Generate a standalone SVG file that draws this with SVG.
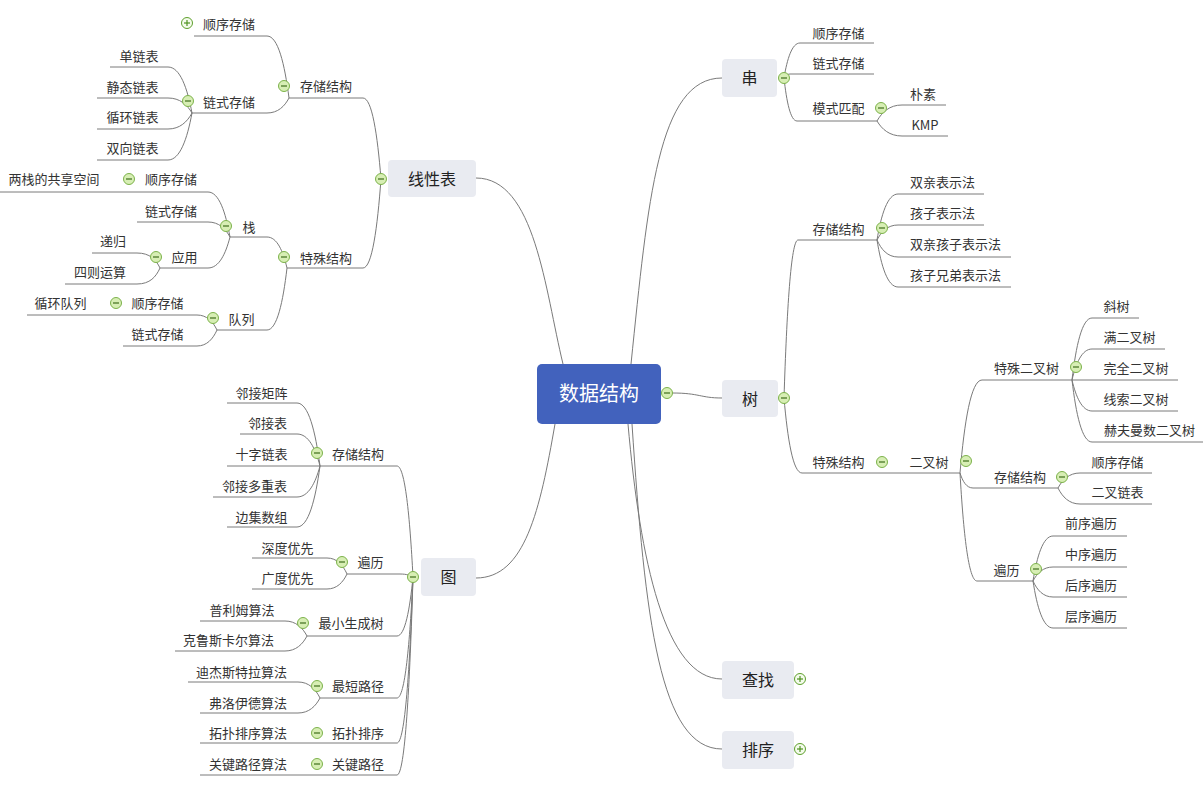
<svg xmlns="http://www.w3.org/2000/svg" xmlns:xlink="http://www.w3.org/1999/xlink" width="1204" height="790" viewBox="0 0 1204 790">
<style>
.t{font-family:"Noto Sans CJK SC","Liberation Sans",sans-serif;font-size:13px;fill:#333;text-anchor:middle}
.m{font-family:"Noto Sans CJK SC","Liberation Sans",sans-serif;font-size:16px;fill:#222;text-anchor:middle}
.c{font-family:"Noto Sans CJK SC","Liberation Sans",sans-serif;font-size:20px;fill:#fff;text-anchor:middle}
.u,.ln{stroke:#7a7a7a;stroke-width:1;fill:none}
.box{fill:#e9ebf1}
</style>
<defs>
<g id="mi"><circle r="5.5" fill="#d7eeb4" stroke="#7cb24a" stroke-width="1"/><line x1="-3" y1="0" x2="3" y2="0" stroke="#3e6e1c" stroke-width="1.2"/></g>
<g id="pl"><circle r="5.5" fill="#f4fbec" stroke="#5ea02c" stroke-width="1"/><line x1="-3" y1="0" x2="3" y2="0" stroke="#4f9322" stroke-width="1.2"/><line x1="0" y1="-3" x2="0" y2="3" stroke="#4f9322" stroke-width="1.2"/></g>
</defs>
<rect width="1204" height="790" fill="#fff"/>
<g id="connectors" class="ln">
<path d="M563,364 C545,290 535,178 476,178"/>
<path d="M631,364 C648,200 658,78 722,78"/>
<path d="M555,424 C540,510 525,578 476,578"/>
<path d="M628,424 C640,560 665,679 722,679"/>
<path d="M632,424 C645,620 660,749 722,749"/>
<path d="M672,393 C700,393 700,398 722,398"/>
<path d="M381,179 C377.4,134.5 372,98 363,98"/>
<path d="M381,179 C377.4,228 372,268 363,268"/>
<path d="M289,98 C284.6,63.9 278,36 267,36"/>
<path d="M289,98 C284.6,106.3 278,113 267,113"/>
<path d="M192,113 C187.2,87.7 180,67 168,67"/>
<path d="M192,113 C187.2,104.8 180,98 168,98"/>
<path d="M192,113 C187.2,121.8 180,129 168,129"/>
<path d="M192,113 C187.2,138.9 180,160 168,160"/>
<path d="M287,268 C283,251 277,237 267,237"/>
<path d="M287,268 C283,302 277,330 267,330"/>
<path d="M230,237 C225.6,212.3 219,192 208,192"/>
<path d="M230,237 C225.6,228.8 219,222 208,222"/>
<path d="M230,237 C225.6,254 219,268 208,268"/>
<path d="M160,268 C156,259.8 150,253 137,253"/>
<path d="M160,268 C156,276.8 150,284 137,284"/>
<path d="M217,330 C213,321.8 207,315 197,315"/>
<path d="M217,330 C213,338.8 207,346 197,346"/>
<path d="M413,577 C409.8,516 405,466 397,466"/>
<path d="M413,577 C410.4,575.4 406.5,574 400,574"/>
<path d="M413,577 C409.8,609.5 405,636 397,636"/>
<path d="M413,577 C409.8,643.6 405,698 397,698"/>
<path d="M413,577 C409.8,668.3 405,743 397,743"/>
<path d="M413,577 C409.8,685.9 405,775 397,775"/>
<path d="M320,466 C315.4,431.4 308.5,403 297,403"/>
<path d="M320,466 C315.4,448.4 308.5,434 297,434"/>
<path d="M320,466 L297,466"/>
<path d="M320,466 C315.4,483 308.5,497 297,497"/>
<path d="M320,466 C315.4,499.6 308.5,527 297,527"/>
<path d="M347,574 C343,565.2 337,558 327,558"/>
<path d="M347,574 C343,582.3 337,589 327,589"/>
<path d="M307,636 C302.6,627.8 296,621 285,621"/>
<path d="M307,636 C302.6,644.3 296,651 285,651"/>
<path d="M320,698 C315.6,689.2 309,682 298,682"/>
<path d="M320,698 C315.6,706.3 309,713 298,713"/>
<path d="M784,78 C787.2,58.8 792,43 800,43"/>
<path d="M784,78 C785.2,75.8 787,74 790,74"/>
<path d="M784,78 C786.6,101.7 790.5,121 797,121"/>
<path d="M877,121 C882,112.2 889.5,105 902,105"/>
<path d="M877,121 C882,129.3 889.5,136 902,136"/>
<path d="M784,398 C786.8,311.1 791,240 798,240"/>
<path d="M784,398 C787.6,439.3 793,473 802,473"/>
<path d="M877,240 C881.2,214.7 887.5,194 898,194"/>
<path d="M877,240 C881.2,231.8 887.5,225 898,225"/>
<path d="M877,240 C881.2,249.4 887.5,257 898,257"/>
<path d="M877,240 C881.2,265.9 887.5,287 898,287"/>
<path d="M960,473 C964.4,421.9 971,380 982,380"/>
<path d="M960,473 C962.6,481.3 966.5,488 973,488"/>
<path d="M960,473 C963.4,532.4 968.5,581 977,581"/>
<path d="M1072,380 C1076,345.9 1082,318 1092,318"/>
<path d="M1072,380 C1076,363 1082,349 1092,349"/>
<path d="M1072,380 L1092,380"/>
<path d="M1072,380 C1076,397 1082,411 1092,411"/>
<path d="M1072,380 C1076,414.1 1082,442 1092,442"/>
<path d="M1058,488 C1062.4,479.8 1069,473 1080,473"/>
<path d="M1058,488 C1062.4,496.8 1069,504 1080,504"/>
<path d="M1033,581 C1037,556.3 1043,536 1053,536"/>
<path d="M1033,581 C1037,573.3 1043,567 1053,567"/>
<path d="M1033,581 C1037,589.8 1043,597 1053,597"/>
<path d="M1033,581 C1037,606.9 1043,628 1053,628"/>
</g>
<g id="n-root"><rect x="537" y="364" width="124" height="60" rx="5" fill="#4262bd"/><text class="c" x="599" y="401">数据结构</text><use href="#mi" x="667" y="393"/></g>
<g id="n-xianxingbiao"><rect class="box" x="388" y="160" width="88" height="37" rx="4"/><text class="m" x="432" y="185">线性表</text><use href="#mi" x="381" y="179"/></g>
<g id="n-l-ccjg"><line class="u" x1="289" y1="98" x2="363" y2="98"/><text class="t" x="326" y="91">存储结构</text><use href="#mi" x="284" y="86"/></g>
<g id="n-l-sxcc"><line class="u" x1="194" y1="36" x2="267" y2="36"/><text class="t" x="229" y="29">顺序存储</text><use href="#pl" x="187" y="23"/></g>
<g id="n-l-lscc"><line class="u" x1="192" y1="113" x2="267" y2="113"/><text class="t" x="229" y="107">链式存储</text><use href="#mi" x="188" y="101"/></g>
<g id="n-dlb"><line class="u" x1="110" y1="67" x2="168" y2="67"/><text class="t" x="139" y="61">单链表</text></g>
<g id="n-jtlb"><line class="u" x1="97" y1="98" x2="168" y2="98"/><text class="t" x="132.5" y="92">静态链表</text></g>
<g id="n-xhlb"><line class="u" x1="97" y1="129" x2="168" y2="129"/><text class="t" x="132.5" y="122">循环链表</text></g>
<g id="n-sxlb"><line class="u" x1="97" y1="160" x2="168" y2="160"/><text class="t" x="132.5" y="153">双向链表</text></g>
<g id="n-l-tsjg"><line class="u" x1="287" y1="268" x2="363" y2="268"/><text class="t" x="326" y="263">特殊结构</text><use href="#mi" x="284" y="257"/></g>
<g id="n-zhan"><line class="u" x1="230" y1="237" x2="267" y2="237"/><text class="t" x="249" y="232">栈</text><use href="#mi" x="226" y="226"/></g>
<g id="n-zhan-sxcc"><line class="u" x1="133" y1="192" x2="208" y2="192"/><text class="t" x="171" y="184">顺序存储</text><use href="#mi" x="129" y="179"/></g>
<g id="n-lzgx"><line class="u" x1="0" y1="192" x2="133" y2="192"/><text class="t" x="54" y="184">两栈的共享空间</text></g>
<g id="n-zhan-lscc"><line class="u" x1="137" y1="222" x2="208" y2="222"/><text class="t" x="171" y="216">链式存储</text></g>
<g id="n-yy"><line class="u" x1="160" y1="268" x2="208" y2="268"/><text class="t" x="184.5" y="262">应用</text><use href="#mi" x="156" y="257"/></g>
<g id="n-dg"><line class="u" x1="92" y1="253" x2="137" y2="253"/><text class="t" x="113" y="246">递归</text></g>
<g id="n-szys"><line class="u" x1="65" y1="284" x2="137" y2="284"/><text class="t" x="100" y="277">四则运算</text></g>
<g id="n-dl"><line class="u" x1="217" y1="330" x2="267" y2="330"/><text class="t" x="241.5" y="324">队列</text><use href="#mi" x="213" y="318"/></g>
<g id="n-dl-sxcc"><line class="u" x1="120" y1="315" x2="197" y2="315"/><text class="t" x="157.5" y="308">顺序存储</text><use href="#mi" x="116" y="303"/></g>
<g id="n-xhdl"><line class="u" x1="27" y1="315" x2="120" y2="315"/><text class="t" x="60.5" y="308">循环队列</text></g>
<g id="n-dl-lscc"><line class="u" x1="123" y1="346" x2="197" y2="346"/><text class="t" x="157.5" y="339">链式存储</text></g>
<g id="n-tu"><rect class="box" x="421" y="558" width="55" height="38" rx="4"/><text class="m" x="448.5" y="583">图</text><use href="#mi" x="413" y="577"/></g>
<g id="n-t-ccjg"><line class="u" x1="320" y1="466" x2="397" y2="466"/><text class="t" x="358" y="459">存储结构</text><use href="#mi" x="317" y="453"/></g>
<g id="n-ljjz"><line class="u" x1="227" y1="403" x2="297" y2="403"/><text class="t" x="261.5" y="398">邻接矩阵</text></g>
<g id="n-ljb"><line class="u" x1="240" y1="434" x2="297" y2="434"/><text class="t" x="267.5" y="428">邻接表</text></g>
<g id="n-szlb"><line class="u" x1="227" y1="466" x2="297" y2="466"/><text class="t" x="261.5" y="459">十字链表</text></g>
<g id="n-ljdcb"><line class="u" x1="213" y1="497" x2="297" y2="497"/><text class="t" x="254.5" y="491">邻接多重表</text></g>
<g id="n-bjsz"><line class="u" x1="227" y1="527" x2="297" y2="527"/><text class="t" x="261.5" y="522">边集数组</text></g>
<g id="n-t-bl"><line class="u" x1="347" y1="574" x2="400" y2="574"/><text class="t" x="370.5" y="567">遍历</text><use href="#mi" x="342" y="562"/></g>
<g id="n-sdyx"><line class="u" x1="252" y1="558" x2="327" y2="558"/><text class="t" x="287.5" y="553">深度优先</text></g>
<g id="n-gdyx"><line class="u" x1="252" y1="589" x2="327" y2="589"/><text class="t" x="287.5" y="583">广度优先</text></g>
<g id="n-zxscs"><line class="u" x1="307" y1="636" x2="397" y2="636"/><text class="t" x="351" y="628">最小生成树</text><use href="#mi" x="303" y="623"/></g>
<g id="n-plmsf"><line class="u" x1="200" y1="621" x2="285" y2="621"/><text class="t" x="242" y="615">普利姆算法</text></g>
<g id="n-klsk"><line class="u" x1="175" y1="651" x2="285" y2="651"/><text class="t" x="228.5" y="645">克鲁斯卡尔算法</text></g>
<g id="n-zdlj"><line class="u" x1="320" y1="698" x2="397" y2="698"/><text class="t" x="358" y="691">最短路径</text><use href="#mi" x="317" y="686"/></g>
<g id="n-djstl"><line class="u" x1="188" y1="682" x2="298" y2="682"/><text class="t" x="241.5" y="677">迪杰斯特拉算法</text></g>
<g id="n-flyd"><line class="u" x1="200" y1="713" x2="298" y2="713"/><text class="t" x="248" y="708">弗洛伊德算法</text></g>
<g id="n-tppx"><line class="u" x1="320" y1="743" x2="397" y2="743"/><text class="t" x="358" y="738">拓扑排序</text><use href="#mi" x="317" y="733"/></g>
<g id="n-tppxsf"><line class="u" x1="200" y1="743" x2="320" y2="743"/><text class="t" x="248" y="738">拓扑排序算法</text></g>
<g id="n-gjlj"><line class="u" x1="320" y1="775" x2="397" y2="775"/><text class="t" x="358" y="769">关键路径</text><use href="#mi" x="317" y="764"/></g>
<g id="n-gjljsf"><line class="u" x1="200" y1="775" x2="320" y2="775"/><text class="t" x="248" y="769">关键路径算法</text></g>
<g id="n-chuan"><rect class="box" x="722" y="59" width="55" height="38" rx="4"/><text class="m" x="749.5" y="84">串</text><use href="#mi" x="784" y="78"/></g>
<g id="n-c-sxcc"><line class="u" x1="800" y1="43" x2="874" y2="43"/><text class="t" x="838.5" y="38">顺序存储</text></g>
<g id="n-c-lscc"><line class="u" x1="790" y1="74" x2="874" y2="74"/><text class="t" x="838.5" y="68">链式存储</text></g>
<g id="n-mspp"><line class="u" x1="797" y1="121" x2="877" y2="121"/><text class="t" x="838.5" y="113">模式匹配</text><use href="#mi" x="881" y="108"/></g>
<g id="n-ps"><line class="u" x1="902" y1="105" x2="946" y2="105"/><text class="t" x="923" y="99">朴素</text></g>
<g id="n-kmp"><line class="u" x1="902" y1="136" x2="948" y2="136"/><text class="t" x="925" y="130">KMP</text></g>
<g id="n-shu"><rect class="box" x="722" y="380" width="56" height="37" rx="4"/><text class="m" x="750" y="405">树</text><use href="#mi" x="784" y="398"/></g>
<g id="n-s-ccjg"><line class="u" x1="798" y1="240" x2="877" y2="240"/><text class="t" x="838.5" y="234">存储结构</text><use href="#mi" x="882" y="228"/></g>
<g id="n-sqbsf"><line class="u" x1="898" y1="194" x2="984" y2="194"/><text class="t" x="942.5" y="187">双亲表示法</text></g>
<g id="n-hzbsf"><line class="u" x1="898" y1="225" x2="984" y2="225"/><text class="t" x="942.5" y="218">孩子表示法</text></g>
<g id="n-sqhz"><line class="u" x1="898" y1="257" x2="1011" y2="257"/><text class="t" x="955.5" y="249">双亲孩子表示法</text></g>
<g id="n-hzxd"><line class="u" x1="898" y1="287" x2="1011" y2="287"/><text class="t" x="955.5" y="280">孩子兄弟表示法</text></g>
<g id="n-s-tsjg"><line class="u" x1="802" y1="473" x2="892" y2="473"/><text class="t" x="838.5" y="467">特殊结构</text><use href="#mi" x="882" y="462"/></g>
<g id="n-ecs"><line class="u" x1="892" y1="473" x2="960" y2="473"/><text class="t" x="929" y="467">二叉树</text><use href="#mi" x="966" y="461"/></g>
<g id="n-tsecs"><line class="u" x1="982" y1="380" x2="1072" y2="380"/><text class="t" x="1026.5" y="373">特殊二叉树</text><use href="#mi" x="1076" y="367"/></g>
<g id="n-xs"><line class="u" x1="1092" y1="318" x2="1139" y2="318"/><text class="t" x="1116.5" y="311">斜树</text></g>
<g id="n-mecs"><line class="u" x1="1092" y1="349" x2="1165" y2="349"/><text class="t" x="1129.5" y="342">满二叉树</text></g>
<g id="n-wqecs"><line class="u" x1="1092" y1="380" x2="1178" y2="380"/><text class="t" x="1136" y="373">完全二叉树</text></g>
<g id="n-xsecs"><line class="u" x1="1092" y1="411" x2="1178" y2="411"/><text class="t" x="1136" y="404">线索二叉树</text></g>
<g id="n-hfm"><line class="u" x1="1092" y1="442" x2="1203" y2="442"/><text class="t" x="1149.5" y="435">赫夫曼数二叉树</text></g>
<g id="n-e-ccjg"><line class="u" x1="973" y1="488" x2="1058" y2="488"/><text class="t" x="1020" y="482">存储结构</text><use href="#mi" x="1062" y="477"/></g>
<g id="n-e-sxcc"><line class="u" x1="1080" y1="473" x2="1152" y2="473"/><text class="t" x="1117.5" y="467">顺序存储</text></g>
<g id="n-eclb"><line class="u" x1="1080" y1="504" x2="1152" y2="504"/><text class="t" x="1117.5" y="497">二叉链表</text></g>
<g id="n-e-bl"><line class="u" x1="977" y1="581" x2="1033" y2="581"/><text class="t" x="1006.5" y="575">遍历</text><use href="#mi" x="1036" y="569"/></g>
<g id="n-qxbl"><line class="u" x1="1053" y1="536" x2="1127" y2="536"/><text class="t" x="1091" y="528">前序遍历</text></g>
<g id="n-zxbl"><line class="u" x1="1053" y1="567" x2="1127" y2="567"/><text class="t" x="1091" y="559">中序遍历</text></g>
<g id="n-hxbl"><line class="u" x1="1053" y1="597" x2="1127" y2="597"/><text class="t" x="1091" y="590">后序遍历</text></g>
<g id="n-cxbl"><line class="u" x1="1053" y1="628" x2="1127" y2="628"/><text class="t" x="1091" y="621">层序遍历</text></g>
<g id="n-cz"><rect class="box" x="722" y="661" width="72" height="38" rx="4"/><text class="m" x="758" y="686">查找</text><use href="#pl" x="800" y="679"/></g>
<g id="n-px"><rect class="box" x="722" y="731" width="72" height="38" rx="4"/><text class="m" x="758" y="756">排序</text><use href="#pl" x="800" y="749"/></g>
</svg>
